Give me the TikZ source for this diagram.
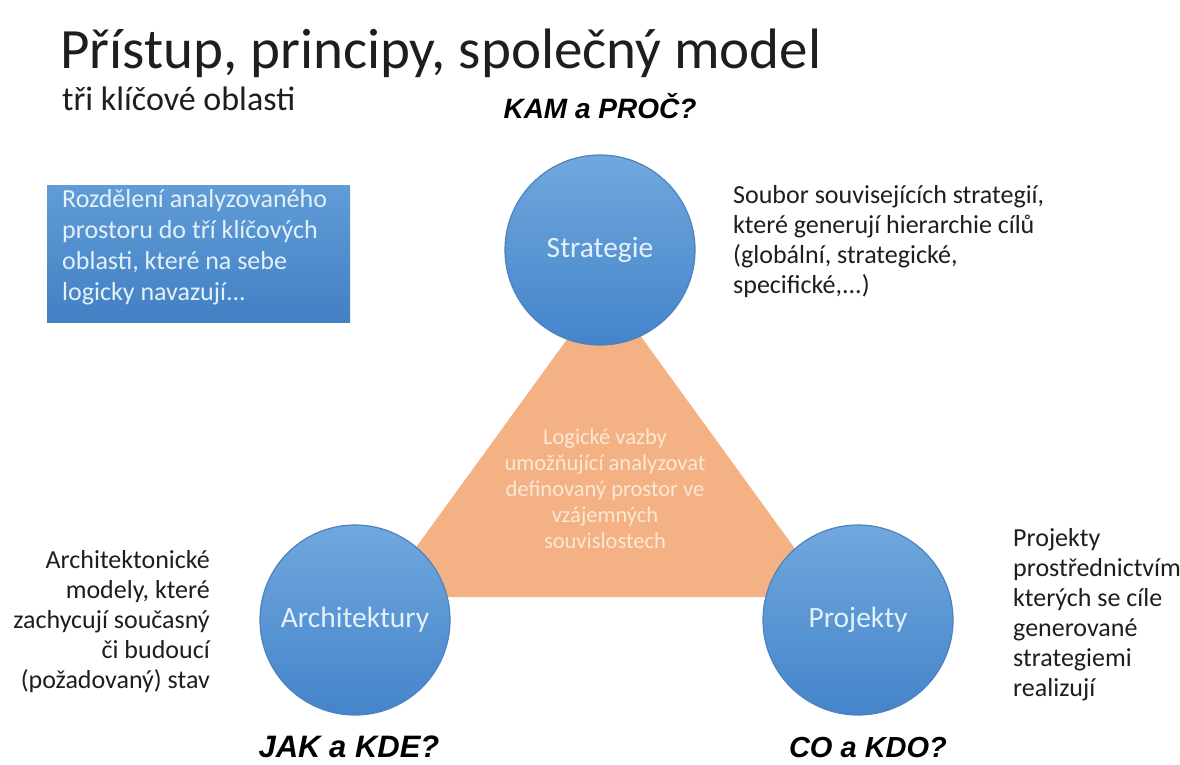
\documentclass[tikz,border=0pt]{standalone}
\usepackage{fontspec}
\setmainfont{Carlito}
\newfontfamily\otazkafont{Liberation Sans}

\definecolor{kruhhore}{RGB}{112,168,222}
\definecolor{kruhdole}{RGB}{68,132,202}
\definecolor{kruhokraj}{RGB}{78,130,190}
\definecolor{boxhore}{RGB}{96,156,214}
\definecolor{boxdole}{RGB}{66,128,196}
\definecolor{trojuhelnik}{RGB}{244,177,131}
\definecolor{svetly}{RGB}{226,241,250}
\definecolor{svetlyoranz}{RGB}{252,232,214}
\definecolor{pismo}{RGB}{30,30,30}

\tikzset{
	oblast/.style={circle,minimum size=190pt,inner sep=0pt,top color=kruhhore,bottom color=kruhdole,draw=kruhokraj,line width=1.2pt,text=svetly,font=\fontsize{29.5}{34}\selectfont},
	popis/.style={inner sep=0pt,text=pismo,font=\fontsize{26}{30}\selectfont},
	otazka/.style={inner sep=0pt,text=black,anchor=base}
}

\begin{document}
\begin{tikzpicture}[x=1pt,y=-1pt]
	\useasboundingbox[fill=white] (0,0) rectangle (1180,765);

	\node[inner sep=0pt,anchor=base west,text=pismo,font=\fontsize{57}{64}\selectfont] (nadpis) at (60,69) {Přístup, principy, společný model};
	\node[inner sep=0pt,anchor=base west,text=pismo,font=\fontsize{34}{40}\selectfont] (podnadpis) at (62,111) {tři klíčové oblasti};

	\shade[top color=boxhore,bottom color=boxdole] (47,185) rectangle (350,322);
	\node[inner sep=0pt,anchor=north west,align=left,text=svetly,font=\fontsize{26}{31}\selectfont] (rozdeleni) at (62,189) {Rozdělení analyzovaného\\prostoru do tří klíčových\\oblasti, které na sebe\\logicky navazují...};

	\fill[trojuhelnik] (380,597) -- (830,597) -- (605,287) -- cycle;
	\node[inner sep=0pt,align=center,text=svetlyoranz,font=\fontsize{22.5}{26}\selectfont] (vazby) at (605,489) {Logické vazby\\umožňující analyzovat\\definovaný prostor ve\\vzájemných\\souvislostech};

	\node[oblast] (strategie) at (600,250) {Strategie};
	\node[oblast] (architektury) at (355,620) {Architektury};
	\node[oblast] (projekty) at (858,620) {Projekty};

	\node[otazka,font=\otazkafont\bfseries\itshape\fontsize{28}{32}\selectfont] (kam) at (600,118) {KAM a PROČ?};
	\node[otazka,font=\otazkafont\bfseries\itshape\fontsize{31}{36}\selectfont] (jak) at (349,757) {JAK a KDE?};
	\node[otazka,font=\otazkafont\bfseries\itshape\fontsize{29}{34}\selectfont] (co) at (868,757) {CO a KDO?};

	\node[popis,anchor=north west,align=left] (popisS) at (733,185) {Soubor souvisejících strategií,\\které generují hierarchie cílů\\(globální, strategické,\\specifické,...)};
	\node[popis,anchor=north east,align=right] (popisA) at (210,550) {Architektonické\\modely, které\\zachycují současný\\či budoucí\\(požadovaný) stav};
	\node[popis,anchor=north west,align=left] (popisP) at (1013,528) {Projekty\\prostřednictvím\\kterých se cíle\\generované\\strategiemi\\realizují};
\end{tikzpicture}
\end{document}
